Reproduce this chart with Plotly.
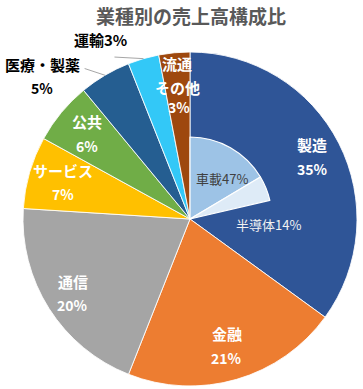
import math
import plotly.graph_objects as go

# ---- data ----
categories = ["製造", "金融", "通信", "サービス", "公共", "医療・製薬", "運輸", "流通<br>その他"]
shares = [35, 21, 20, 7, 6, 5, 3, 3]
colors = ["#2F5597", "#ED7D31", "#A5A5A5", "#FFC000", "#70AD47", "#255E91", "#33C8F7", "#9E480E"]

sub_categories = ["車載", "半導体"]
sub_shares_of_mfg = [47, 14]          # % within 製造
sub_colors = ["#9DC3E6", "#DEEBF7"]

title = "業種別の売上高構成比"

# ---- geometry (pixels) ----
W, H = 363, 389
CX, CY, R = 190, 219, 167
R_IN = 82
FONT = "Noto Sans CJK JP"


def px(x, y):
    return x / W, 1 - y / H


def polar(deg, rf):
    a = math.radians(deg)
    return CX + rf * R * math.sin(a), CY - rf * R * math.cos(a)


total = sum(shares)
starts = []
acc = 0
for v in shares:
    starts.append(acc)
    acc += v
mids = [(s + v / 2) / total * 360 for s, v in zip(starts, shares)]

fig = go.Figure()
fig.add_trace(go.Pie(
    values=shares, labels=categories, sort=False, direction="clockwise", rotation=0,
    marker=dict(colors=colors, line=dict(color="rgba(255,255,255,0.85)", width=1)),
    textinfo="none", hoverinfo="label+percent", showlegend=False,
    domain=dict(x=[(CX - R) / W, (CX + R) / W], y=[(H - CY - R) / H, (H - CY + R) / H]),
))

mfg = shares[0]
sub_vals = [mfg * p / 100 for p in sub_shares_of_mfg]
sub_vals.append(total - sum(sub_vals))
fig.add_trace(go.Pie(
    values=sub_vals, labels=sub_categories + ["rest"], sort=False, direction="clockwise", rotation=0,
    marker=dict(colors=sub_colors + ["rgba(0,0,0,0)"],
                line=dict(color="white", width=[1.2, 1.2, 0])),
    textinfo="none", hoverinfo="skip", showlegend=False,
    domain=dict(x=[(CX - R_IN) / W, (CX + R_IN) / W], y=[(H - CY - R_IN) / H, (H - CY + R_IN) / H]),
))

annotations = []


def add_text(x, y, text, size, color, bold=True):
    xp, yp = px(x, y)
    annotations.append(dict(
        x=xp, y=yp, xref="paper", yref="paper", showarrow=False,
        text=f"<b>{text}</b>" if bold else text,
        font=dict(family=FONT, size=size, color=color),
        xanchor="center", yanchor="middle"))


# inside labels: radial factor for each category index
inside_rf = {0: 0.82, 1: 0.79, 2: 0.83, 3: 0.79, 4: 0.80, 7: 0.80}
for i, rf in inside_rf.items():
    x, y = polar(mids[i], rf)
    if i == 7:
        parts = categories[i].split("<br>")
        add_text(x, y - 22, parts[0], 15, "white")
        add_text(x, y + 2, parts[1], 15, "white")
        add_text(x + 2, y + 21, f"{shares[i]}%", 14, "white")
    else:
        add_text(x, y - 12, categories[i], 15, "white")
        add_text(x, y + 12, f"{shares[i]}%", 14, "white")

# outside labels with leader lines
shapes = []
# 医療・製薬
i = 5
x0, y0 = polar(mids[i], 1.0)
x1, y1 = polar(325, 1.10)
shapes.append(dict(type="line", xref="paper", yref="paper",
                   x0=px(x0, y0)[0], y0=px(x0, y0)[1], x1=px(x1, y1)[0], y1=px(x1, y1)[1],
                   line=dict(color="#A6A6A6", width=1)))
lx, ly = polar(314, 1.23)
add_text(lx, ly - 12, categories[i], 15, "black")
add_text(lx, ly + 12, f"{shares[i]}%", 14, "black")
# 運輸
i = 6
x0, y0 = polar(mids[i], 1.0)
x1, y1 = polar(335, 1.07)
shapes.append(dict(type="line", xref="paper", yref="paper",
                   x0=px(x0, y0)[0], y0=px(x0, y0)[1], x1=px(x1, y1)[0], y1=px(x1, y1)[1],
                   line=dict(color="#A6A6A6", width=1)))
lx, ly = polar(333.5, 1.20)
add_text(lx, ly, f"{categories[i]}{shares[i]}%", 15, "black")

# sub-pie labels
x, y = polar(38, 0.31)
add_text(x, y, f"{sub_categories[0]}{sub_shares_of_mfg[0]}%", 13, "#404040", bold=False)
x, y = polar(94, 0.47)
add_text(x, y, f"{sub_categories[1]}{sub_shares_of_mfg[1]}%", 13, "#F2F2F2", bold=False)

tx, ty = px(191, 17)
fig.update_layout(
    width=W, height=H, margin=dict(l=0, r=0, t=0, b=0),
    paper_bgcolor="white", plot_bgcolor="white",
    title=dict(text=f"<b>{title}</b>", x=tx, y=ty, xanchor="center", yanchor="middle",
               font=dict(family=FONT, size=19, color="#595959")),
    annotations=annotations, shapes=shapes,
)

fig.write_html("out.html", config={"displayModeBar": False},
               post_script="document.body.style.margin='0';document.body.style.padding='0';")
